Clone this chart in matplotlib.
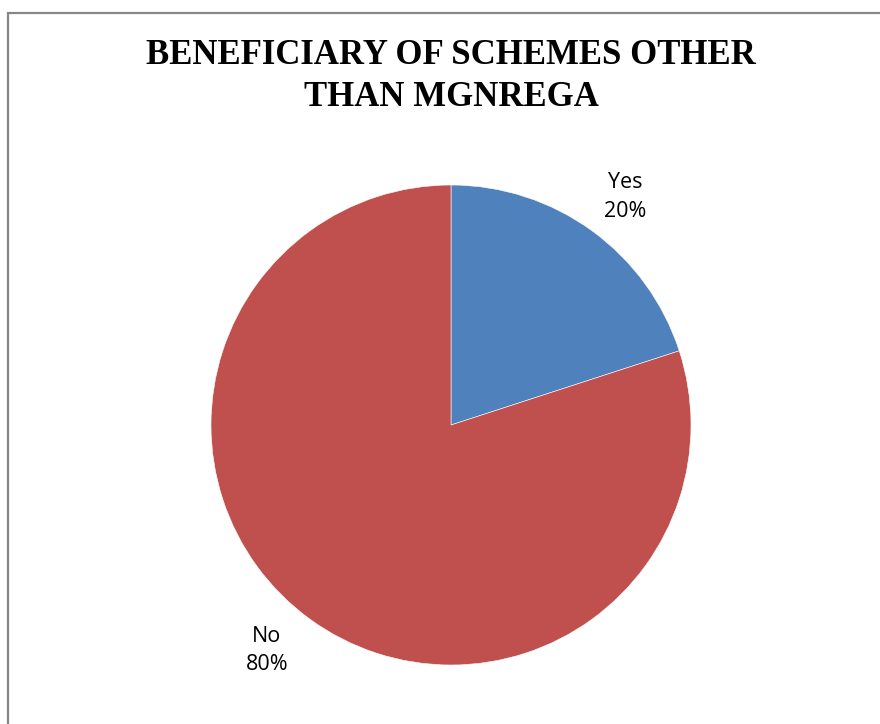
import matplotlib
matplotlib.use("Agg")
import matplotlib.pyplot as plt
from matplotlib.patches import Rectangle

categories = ["Yes", "No"]
shares = [20, 80]
colors = ["#4F81BD", "#C0504D"]
title = "BENEFICIARY OF SCHEMES OTHER\nTHAN MGNREGA"

W, H = 880, 724
fig = plt.figure(figsize=(W / 100, H / 100), dpi=100)

# chart frame, open on right and bottom
fig.add_artist(Rectangle((8 / W, -0.1), 1.2, (H - 13) / H + 0.1,
                         transform=fig.transFigure, fill=False,
                         edgecolor="#878787", linewidth=1.6))

fig.text(451 / W, 1 - 77 / H, title, ha="center", va="center",
         family="Liberation Serif", weight="bold", fontsize=25,
         linespacing=1.36)

cx, cy, r = 451, 425, 240
ax = fig.add_axes([(cx - r) / W, (H - cy - r) / H, 2 * r / W, 2 * r / H])
ax.pie(shares, colors=colors, startangle=90, counterclock=False, radius=1,
       wedgeprops=dict(linewidth=0.4, edgecolor="white"))
ax.set_xlim(-1, 1)
ax.set_ylim(-1, 1)
ax.axis("off")

label_pos = [(0.725, 0.95), (-0.767, -0.94)]
for name, val, (lx, ly) in zip(categories, shares, label_pos):
    ax.text(lx, ly, f"{name}\n{val}%", ha="center", va="center",
            family="Open Sans", fontsize=15.5, linespacing=1.45)

fig.savefig("out.png", dpi=100)
